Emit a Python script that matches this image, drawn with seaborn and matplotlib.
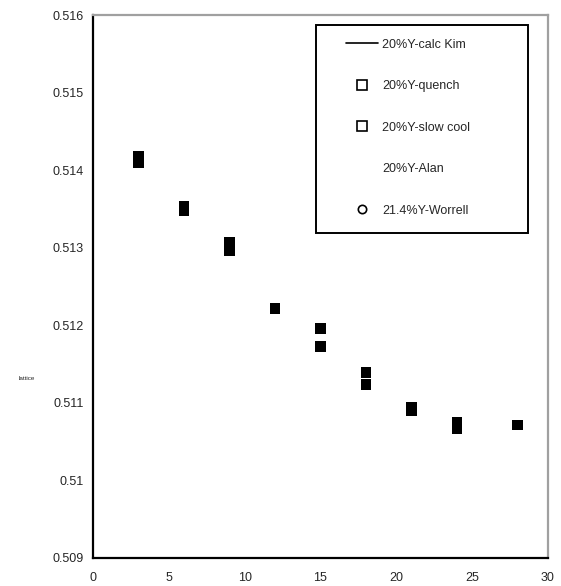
import matplotlib
matplotlib.use("Agg")
import matplotlib.pyplot as plt
import seaborn as sns
import pandas as pd
from matplotlib.lines import Line2D
from matplotlib.patches import Rectangle

# values
x_vals = [3, 6, 9, 12, 15, 18, 21, 24, 28]
y_quench = [0.51417, 0.51353, 0.51306, 0.51221, 0.51195, 0.51139, 0.51094, 0.51074, 0.51071]
y_slow = [0.51410, 0.51348, 0.51296, 0.51221, 0.51172, 0.51123, 0.51090, 0.51066, 0.51071]

series_labels = ['20%Y-calc Kim', '20%Y-quench', '20%Y-slow cool', '20%Y-Alan', '21.4%Y-Worrell']
x_ticks = [0, 5, 10, 15, 20, 25, 30]
y_ticks = [0.509, 0.51, 0.511, 0.512, 0.513, 0.514, 0.515, 0.516]
y_ticklabels = ['0.509', '0.51', '0.511', '0.512', '0.513', '0.514', '0.515', '0.516']

df = pd.concat([
    pd.DataFrame({'x': x_vals, 'y': y_quench, 'series': series_labels[1]}),
    pd.DataFrame({'x': x_vals, 'y': y_slow, 'series': series_labels[2]}),
])

sns.set_style('white')
plt.rcParams['font.family'] = ['Liberation Sans', 'DejaVu Sans']

fig = plt.figure(figsize=(5.61, 5.86), dpi=100)
ax = fig.add_axes([0.1658, 0.0486, 0.811, 0.9258])

sns.scatterplot(data=df, x='x', y='y', hue='series', palette=['black', 'black'],
                marker='s', s=62, linewidth=0, legend=False, ax=ax)

ax.set_xlim(0, 30)
ax.set_ylim(0.509, 0.516)
ax.set_xticks(x_ticks)
ax.set_yticks(y_ticks)
ax.set_yticklabels(y_ticklabels)
ax.set_xlabel('')
ax.set_ylabel('lattice', rotation=0, fontsize=4.5)
ax.yaxis.set_label_coords(-0.145, 0.325)

ax.tick_params(axis='both', which='major', direction='out', length=3, width=1.2,
               color='black', labelsize=9)
ax.tick_params(axis='x', pad=7.5)
ax.tick_params(axis='y', pad=3.5)

for side in ['left', 'bottom']:
    ax.spines[side].set_color('black')
    ax.spines[side].set_linewidth(1.6)
for side in ['top', 'right']:
    ax.spines[side].set_color('#a0a0a0')
    ax.spines[side].set_linewidth(1.6)

# legend box (drawn separately so the inner padding can match)
ax.add_patch(Rectangle((0.4901, 0.598), 0.466, 0.3836, transform=ax.transAxes,
                       fill=True, facecolor='white', edgecolor='black',
                       linewidth=1.4, zorder=5, clip_on=False))

handles = [
    Line2D([], [], color='black', lw=1.2),
    Line2D([], [], ls='', marker='s', ms=7, mfc='white', mec='black', mew=1.2),
    Line2D([], [], ls='', marker='s', ms=7, mfc='white', mec='black', mew=1.2),
    Line2D([], [], ls='', marker=None),
    Line2D([], [], ls='', marker='o', ms=6, mfc='white', mec='black', mew=1.2),
]
leg = ax.legend(handles, series_labels, loc='upper left',
                bbox_to_anchor=(0.556, 0.956),
                fontsize=9, labelspacing=2.36, borderpad=0,
                handlelength=2.56, handletextpad=0.32, borderaxespad=0,
                frameon=False)
leg.set_zorder(6)

fig.savefig('out.png', dpi=100)
